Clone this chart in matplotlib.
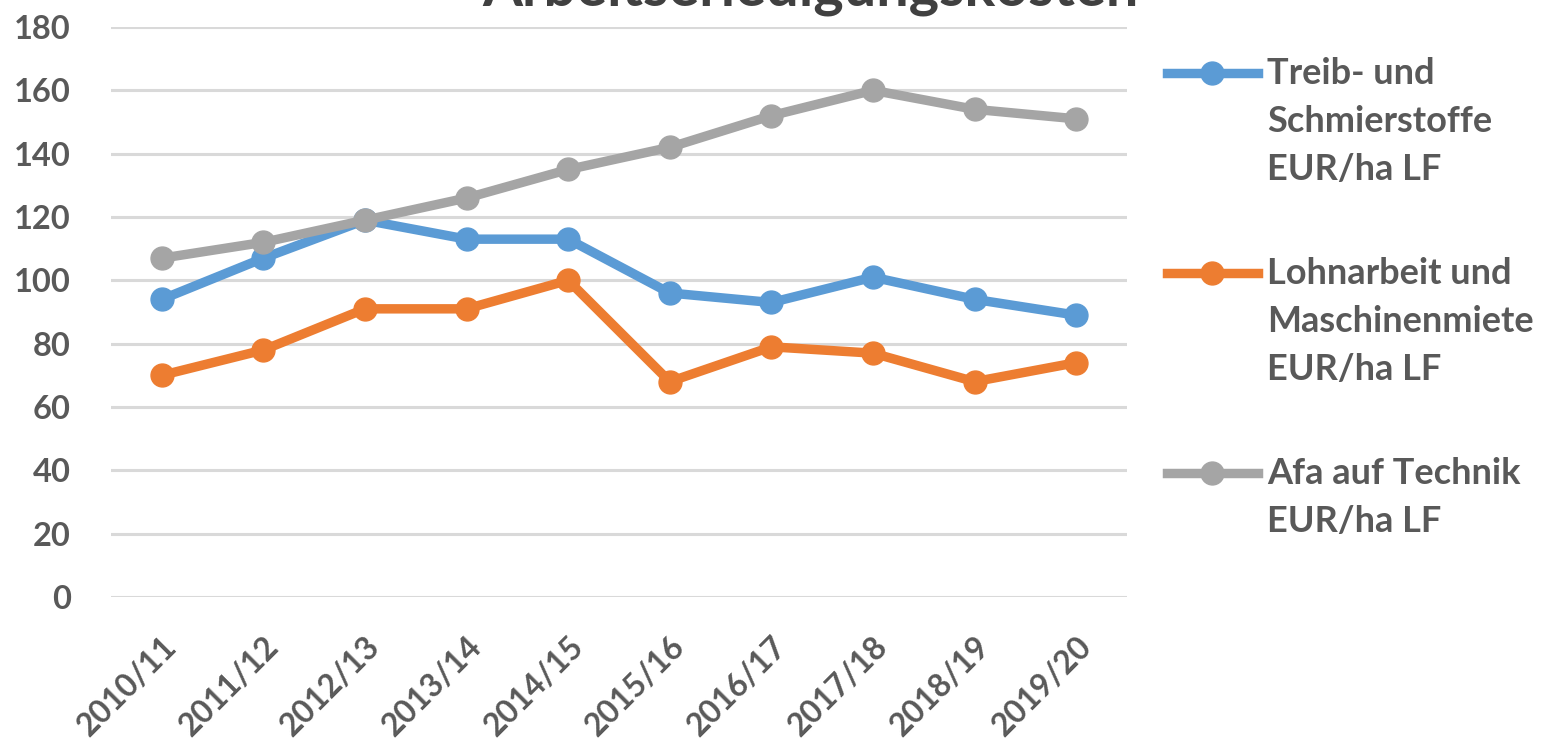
import matplotlib
matplotlib.use("Agg")
from matplotlib import pyplot as plt
from matplotlib.lines import Line2D

# Daten (EUR/ha LF)
jahre = ["2010/11", "2011/12", "2012/13", "2013/14", "2014/15",
         "2015/16", "2016/17", "2017/18", "2018/19", "2019/20"]
treibstoffe = [94, 107, 119, 113, 113, 96, 93, 101, 94, 89]
lohnarbeit = [70, 78, 91, 91, 100, 68, 79, 77, 68, 74]
afa_technik = [107, 112, 119, 126, 135, 142, 152, 160, 154, 151]

legend_labels = ["Treib- und\nSchmierstoffe\nEUR/ha LF",
                 "Lohnarbeit und\nMaschinenmiete\nEUR/ha LF",
                 "Afa auf Technik\nEUR/ha LF"]
farben = ["#5B9BD5", "#ED7D31", "#A5A5A5"]
titel = "Arbeitserledigungskosten"

plt.rcParams['font.family'] = ['Lato', 'DejaVu Sans']
textfarbe = "#595959"

W, H = 1559, 748
fig = plt.figure(figsize=(W / 100, H / 100), dpi=100)
ax = fig.add_axes([111 / W, 1 - 597 / H, (1127 - 111) / W, (597 - 27) / H])

x = list(range(len(jahre)))
for werte, farbe in zip([treibstoffe, lohnarbeit, afa_technik], farben):
    ax.plot(x, werte, color=farbe, lw=6.8, marker="o", ms=16.5,
            solid_capstyle="round", zorder=3)

ax.set_xlim(-0.5, len(jahre) - 0.5)
ax.set_ylim(0, 180)
ax.set_yticks(range(0, 181, 20))
ax.grid(axis="y", color="#D9D9D9", lw=2.2, zorder=0)
for s in ax.spines.values():
    s.set_visible(False)
ax.tick_params(axis="both", length=0, labelcolor=textfarbe)
ax.tick_params(axis="y", pad=29, labelsize=23.5)
ax.tick_params(axis="x", pad=25, labelsize=23)
ax.set_xticks(x)
ax.set_xticklabels(jahre, rotation=45, ha="right", va="top",
                   rotation_mode="anchor", fontweight="bold")
for t in ax.get_yticklabels():
    t.set_fontweight("bold")

# Titel (oben abgeschnitten wie im Original)
fig.text(0.52, 1 - 5 / H, titel, ha="center", va="baseline",
         fontsize=41.5, fontweight="bold", color="#404040")

# Legende rechts
zeile = 48
start = [73, 273, 473]
for lab, farbe, y0 in zip(legend_labels, farben, start):
    yf = 1 - y0 / H
    fig.add_artist(Line2D([1167 / W, 1212 / W, 1258 / W], [yf, yf, yf],
                          color=farbe, lw=6.8, marker="o", ms=16.5,
                          markevery=[1], transform=fig.transFigure))
    for i, teil in enumerate(lab.split("\n")):
        fig.text(1267 / W, 1 - (y0 + i * zeile) / H, teil, ha="left",
                 va="center", fontsize=26, fontweight="bold", color=textfarbe)

fig.savefig("out.png", dpi=100, facecolor="white")
